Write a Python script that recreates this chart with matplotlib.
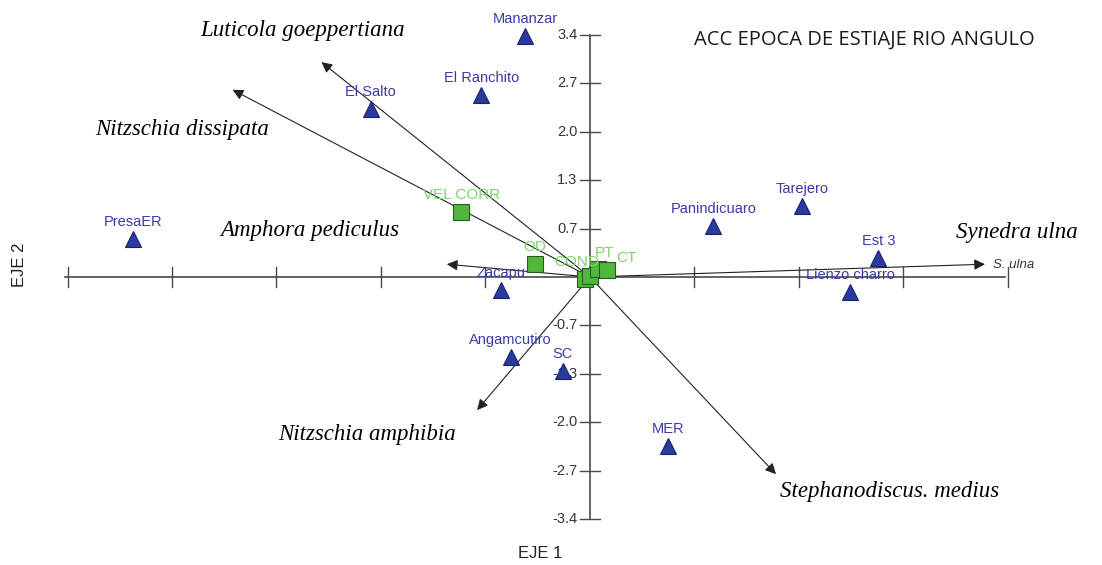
import matplotlib
matplotlib.use("Agg")
import matplotlib.pyplot as plt
import numpy as np

# sitios (triangulos)
sites = ["Mananzar", "El Ranchito", "El Salto", "PresaER", "Panindicuaro", "Tarejero",
         "Est 3", "Lienzo charro", "Zacapu", "Angamcutiro", "SC", "MER"]
site_x = [-0.62, -1.04, -2.10, -4.37, 1.18, 2.03, 2.76, 2.49, -0.85, -0.76, -0.26, 0.75]
site_y = [3.39, 2.56, 2.36, 0.53, 0.72, 1.00, 0.27, -0.21, -0.18, -1.12, -1.32, -2.37]

# variables ambientales (cuadros)
env = ["VEL CORR", "OD", "COND", "", "PT", "CT"]
env_x = [-1.23, -0.53, -0.05, 0.00, 0.08, 0.16]
env_y = [0.91, 0.18, -0.03, 0.01, 0.11, 0.10]
env_lab_off = [(0, 17), (0, 17), (-8, 17), (0, 0), (6, 16), (20, 12)]

# especies (flechas)
species = ["Luticola goeppertiana", "Nitzschia dissipata", "Amphora pediculus",
           "Synedra ulna", "Nitzschia amphibia", "Stephanodiscus. medius"]
sp_x = [-2.57, -3.42, -1.37, 3.78, -1.08, 1.78]
sp_y = [3.02, 2.63, 0.18, 0.18, -1.87, -2.77]
sp_lab_x = [-2.75, -3.90, -2.68, 4.09, -2.13, 2.87]
sp_lab_y = [3.47, 2.07, 0.66, 0.63, -2.21, -3.01]

yticks = [3.4, 2.7, 2.0, 1.3, 0.7, -0.7, -1.3, -2.0, -2.7, -3.4]
ytick_pos = [0.68 * k for k in [5, 4, 3, 2, 1, -1, -2, -3, -4, -5]]
xtick_pos = list(range(-5, 5))

fig = plt.figure(figsize=(11.02, 5.65), dpi=100)
ax = fig.add_axes([0, 0, 1, 1])
ax.set_xlim(-5.646, 4.900)
ax.set_ylim(-4.046, 3.892)
ax.axis("off")

axc = "#4a4a4a"
ax.plot([-5.02, 3.97], [0, 0], color=axc, lw=1.2, zorder=1)
ax.plot([0, 0], [-3.4, 3.4], color=axc, lw=1.2, zorder=1)
for xt in xtick_pos:
    if xt != 0:
        ax.plot([xt, xt], [-0.14, 0.14], color=axc, lw=1.0, zorder=1)
for yp, yl in zip(ytick_pos, yticks):
    ax.plot([-0.1, 0.1], [yp, yp], color=axc, lw=1.0, zorder=1)
    ax.text(-0.12, yp, f"{yl:.1f}", ha="right", va="center", fontsize=10.5,
            color="#333340", family="Liberation Sans")

# flechas
for x, y in zip(sp_x, sp_y):
    ax.annotate("", xy=(x, y), xytext=(0, 0),
                arrowprops=dict(arrowstyle="-|>", mutation_scale=16, lw=0.8,
                                color="#222222", shrinkA=0, shrinkB=0), zorder=2)
ax.text(3.86, 0.17, "S. ulna", fontsize=9.5, style="italic", color="#333333",
        ha="left", va="center", family="Liberation Sans")

for name, lx, ly in zip(species, sp_lab_x, sp_lab_y):
    ax.text(lx, ly, name, fontsize=16.5, style="italic", family="Liberation Serif",
            ha="center", va="center", color="black")

# sitios
ax.plot(site_x, site_y, "^", ms=12, color="#2b3a9e", mec="#1a2270", mew=0.8, zorder=4)
for name, x, y in zip(sites, site_x, site_y):
    ax.annotate(name, (x, y), xytext=(0, 17), textcoords="offset pixels",
                ha="center", va="center", fontsize=10.5, color="#3a3aa8",
                family="Liberation Sans", zorder=5)

# variables ambientales
ax.plot(env_x, env_y, "s", ms=11, color="#4fb83c", mec="#2a5a20", mew=0.8, zorder=3)
for name, x, y, off in zip(env, env_x, env_y, env_lab_off):
    if name:
        ax.annotate(name, (x, y), xytext=off, textcoords="offset pixels",
                    ha="center", va="center", fontsize=11, color="#7dd46a",
                    family="Liberation Sans", zorder=5)

ax.text(1.0, 3.34, "ACC EPOCA DE ESTIAJE RIO ANGULO", fontsize=14.5, family="Open Sans",
        ha="left", va="center", color="#1a1a1a")
ax.text(-5.46, 0.17, "EJE 2", rotation=90, fontsize=12, family="Liberation Sans",
        ha="center", va="center", color="#222222")
ax.text(-0.48, -3.88, "EJE 1", fontsize=12, family="Liberation Sans",
        ha="center", va="center", color="#222222")

fig.savefig("out.png", dpi=100)
